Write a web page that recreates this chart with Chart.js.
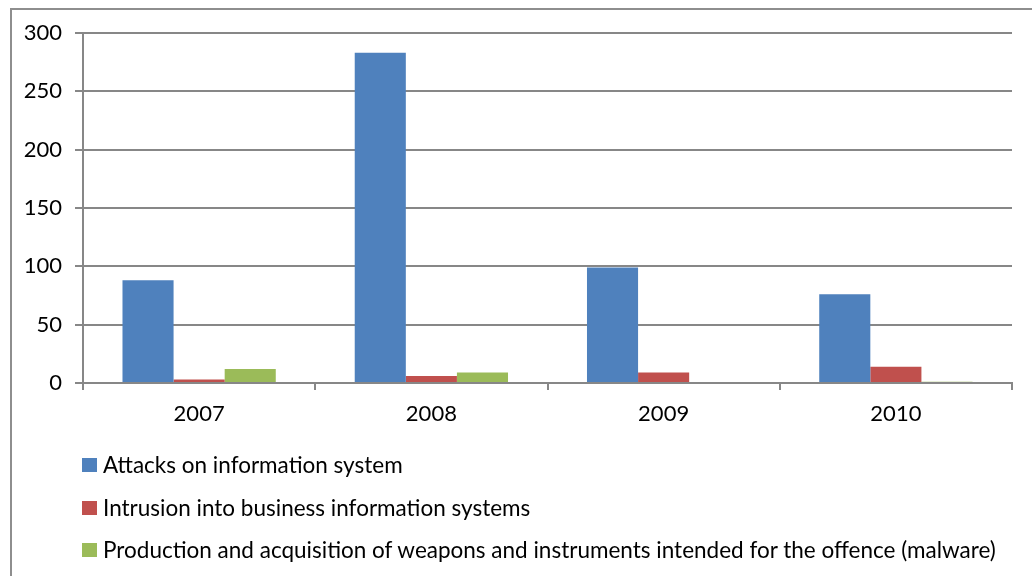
<!DOCTYPE html>
<html><head><meta charset="utf-8">
<script src="https://cdn.jsdelivr.net/npm/chart.js@4.4.1/dist/chart.umd.min.js"></script>
<style>
html,body{margin:0;padding:0;background:#fff;}
#wrap{position:relative;width:1032px;height:576px;overflow:hidden;font-family:Lato,"Open Sans",sans-serif;}
#frame{position:absolute;left:10px;top:8px;width:1100px;height:700px;border-left:2px solid #8e8e8e;border-top:2px solid #8e8e8e;box-sizing:border-box;}
#c{position:absolute;left:0;top:0;}
#legend{position:absolute;left:82px;top:451px;}
.item{height:42.5px;display:flex;align-items:flex-start;font-size:22.5px;line-height:27px;color:#000;white-space:nowrap;}
.box{width:15px;height:14px;margin-top:7px;margin-right:6px;}
</style></head>
<body><div id="wrap"><div id="frame"></div><canvas id="c" width="1032" height="576"></canvas><div id="legend"></div></div>
<script>
const categories = ["2007","2008","2009","2010"];
const seriesNames = ["Attacks on information system","Intrusion into business information systems","Production and acquisition of weapons and instruments intended for the offence (malware)"];
const attacks = [88, 283, 99, 76];
const intrusion = [3, 6, 9, 14];
const malware = [12, 9, 0, 1];
const yTicks = [0, 50, 100, 150, 200, 250, 300];
const colors = ["#4f81bd","#c0504d","#9bbb59"];

const grid = "#878787";
const font = {family:"Lato, 'Open Sans', sans-serif", size:22};
const values = [attacks, intrusion, malware];
const chart = new Chart(document.getElementById('c'), {
  type:'bar',
  data:{labels:categories, datasets: values.map((v,i)=>({label:seriesNames[i], data:v, backgroundColor:colors[i], borderWidth:0}))},
  options:{
    responsive:false, animation:false,
    layout:{padding:{top:33, right:20, left:0, bottom:0}},
    plugins:{legend:{display:false}, tooltip:{enabled:false}},
    datasets:{bar:{categoryPercentage:0.66, barPercentage:1.0}},
    scales:{
      x:{
        offset:true,
        grid:{offset:true, drawOnChartArea:false, drawTicks:true, tickLength:7, color:grid, lineWidth:2},
        border:{color:grid, width:2},
        ticks:{color:"#000", font:font, padding:11},
        afterFit(s){ s.height = 576-383; }
      },
      y:{
        min:0, max:300,
        afterBuildTicks(s){ s.ticks = yTicks.map(v=>({value:v})); },
        grid:{color:grid, lineWidth:2, tickLength:8},
        border:{color:grid, width:2},
        ticks:{color:"#000", font:font, padding:13},
        afterFit(s){ s.width = 83; }
      }
    }
  }
});
const lg = document.getElementById('legend');
seriesNames.forEach((n,i)=>{
  const d=document.createElement('div'); d.className='item';
  const b=document.createElement('div'); b.className='box'; b.style.background=colors[i];
  const t=document.createElement('span'); t.textContent=n;
  d.appendChild(b); d.appendChild(t); lg.appendChild(d);
});
</script></body></html>
